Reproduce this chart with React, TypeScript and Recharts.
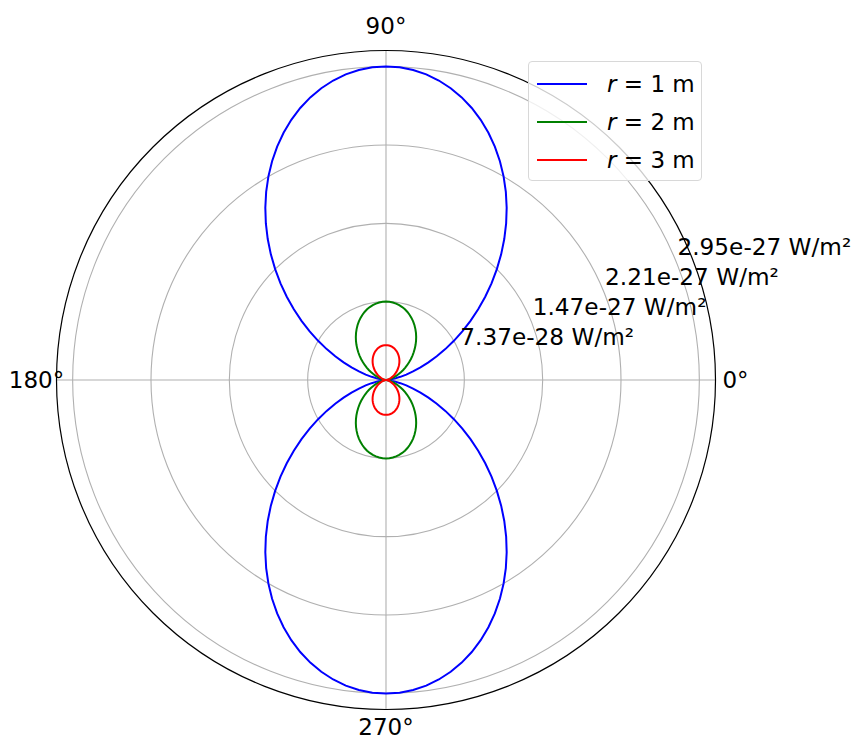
import {
  RadarChart, Radar, PolarGrid, PolarAngleAxis, PolarRadiusAxis, Legend,
} from 'recharts';

// intensity in units of 1e-27 W/m², read at 2.5° steps over one quadrant (0°..90°);
// the pattern is mirror-symmetric about both axes
const quarterAngles = [
  0, 2.5, 5, 7.5, 10, 12.5, 15, 17.5, 20, 22.5, 25, 27.5, 30, 32.5, 35, 37.5, 40, 42.5, 45,
  47.5, 50, 52.5, 55, 57.5, 60, 62.5, 65, 67.5, 70, 72.5, 75, 77.5, 80, 82.5, 85, 87.5, 90,
];

const r1m = [
  0, 0.0056, 0.0224, 0.0503, 0.089, 0.1382, 0.1976, 0.2668, 0.3451, 0.432, 0.5269, 0.629, 0.7375,
  0.8516, 0.9705, 1.0932, 1.2189, 1.3464, 1.475, 1.6036, 1.7311, 1.8568, 1.9795, 2.0984, 2.2125,
  2.321, 2.4231, 2.518, 2.6049, 2.6832, 2.7524, 2.8118, 2.861, 2.8997, 2.9276, 2.9444, 2.95,
];

const r2m = [
  0, 0.0014, 0.0056, 0.0126, 0.0222, 0.0346, 0.0494, 0.0667, 0.0863, 0.108, 0.1317, 0.1572, 0.1844,
  0.2129, 0.2426, 0.2733, 0.3047, 0.3366, 0.3688, 0.4009, 0.4328, 0.4642, 0.4949, 0.5246, 0.5531,
  0.5803, 0.6058, 0.6295, 0.6512, 0.6708, 0.6881, 0.703, 0.7153, 0.7249, 0.7319, 0.7361, 0.7375,
];

const r3m = [
  0, 0.0006, 0.0025, 0.0056, 0.0099, 0.0154, 0.022, 0.0296, 0.0383, 0.048, 0.0585, 0.0699, 0.0819,
  0.0946, 0.1078, 0.1215, 0.1354, 0.1496, 0.1639, 0.1782, 0.1923, 0.2063, 0.2199, 0.2332, 0.2458,
  0.2579, 0.2692, 0.2798, 0.2894, 0.2981, 0.3058, 0.3124, 0.3179, 0.3222, 0.3253, 0.3272, 0.3278,
];

const radiusTicks = [0.737, 1.474, 2.211, 2.948];
const radiusTickLabels = ['7.37e-28 W/m²', '1.47e-27 W/m²', '2.21e-27 W/m²', '2.95e-27 W/m²'];
const angleTicks = [0, 90, 180, 270];

const series = [
  { key: 'r1', label: '1', color: '#0000ff' },
  { key: 'r2', label: '2', color: '#008000' },
  { key: 'r3', label: '3', color: '#ff0000' },
];

// unfold the quadrant into a full turn: 0..90, 90..180 (mirrored), 180..270, 270..360 (mirrored)
const inner = quarterAngles.slice(1, -1);
const idxs = [
  ...quarterAngles.map((_, i) => i),
  ...inner.map((_, i) => inner.length - i),
  ...quarterAngles.map((_, i) => i),
  ...inner.map((_, i) => inner.length - i),
];
const data = idxs.map((q, i) => ({
  angle: i * 2.5,
  r1: r1m[q],
  r2: r2m[q],
  r3: r3m[q],
}));

const FONT = '"DejaVu Sans", sans-serif';

// extra push of the angle labels beyond the default tick position
const labelPush: Record<number, number> = { 0: 12, 90: 17, 180: 12, 270: 9 };

const AngleTick = (props: any) => {
  const { x, y, payload } = props;
  const v = Number(payload.value);
  if (!angleTicks.includes(v)) return null;
  const a = (v * Math.PI) / 180;
  const push = labelPush[v];
  return (
    <text
      x={x + push * Math.cos(a)}
      y={y - push * Math.sin(a)}
      textAnchor="middle"
      dominantBaseline="central"
      fontFamily={FONT}
      fontSize={23}
      fill="#000"
    >
      {v}°
    </text>
  );
};

const RadiusTick = (props: any) => {
  const { x, y, payload } = props;
  const idx = radiusTicks.indexOf(Number(payload.value));
  if (idx < 0) return null;
  return (
    <text x={x + 2} y={y - 5} textAnchor="start" fontFamily={FONT} fontSize={23.2} fill="#000">
      {radiusTickLabels[idx]}
    </text>
  );
};

const LegendBox = () => (
  <div
    style={{
      width: 174, height: 120, boxSizing: 'border-box', border: '1px solid #d8d8d8',
      borderRadius: 4, background: 'rgba(255,255,255,0.8)', fontFamily: FONT, fontSize: 23,
      paddingTop: 3,
    }}
  >
    {series.map((s) => (
      <div key={s.key} style={{ display: 'flex', alignItems: 'center', height: 38 }}>
        <div style={{ width: 50, height: 2, background: s.color, marginLeft: 8, marginRight: 20 }} />
        <span style={{ whiteSpace: 'nowrap' }}>
          <i>r</i> = {s.label} m
        </span>
      </div>
    ))}
  </div>
);

const App = () => {
  return (
    <div style={{ width: 860, height: 745, margin: -8 }}>
      <RadarChart
        width={860}
        height={745}
        data={data}
        cx={386}
        cy={380}
        outerRadius={329.5}
        startAngle={0}
        endAngle={360}
        margin={{ top: 0, right: 0, bottom: 0, left: 0 }}
      >
        <PolarGrid gridType="circle" polarAngles={angleTicks} stroke="#b0b0b0" strokeWidth={1.1} />
        <PolarAngleAxis
          dataKey="angle"
          type="number"
          domain={[0, 360]}
          ticks={angleTicks}
          axisLineType="circle"
          axisLine={{ stroke: '#000', strokeWidth: 1.2 }}
          tickLine={false}
          tick={<AngleTick />}
        />
        <PolarRadiusAxis
          type="number"
          angle={22.5}
          domain={[0, 3.1]}
          ticks={radiusTicks}
          axisLine={false}
          tickLine={false}
          tick={<RadiusTick />}
        />
        {series.map((s) => (
          <Radar
            key={s.key}
            name={`r = ${s.label} m`}
            dataKey={s.key}
            stroke={s.color}
            strokeWidth={2}
            fill="none"
            fillOpacity={0}
            dot={false}
            isAnimationActive={false}
          />
        ))}
        <Legend
          layout="vertical"
          align="center"
          verticalAlign="middle"
          wrapperStyle={{ top: 61, left: 528, width: 174 }}
          content={<LegendBox />}
        />
      </RadarChart>
    </div>
  );
};

export default App;
